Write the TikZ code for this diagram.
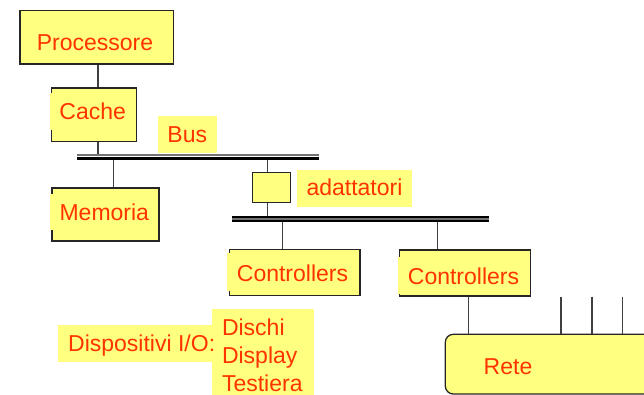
\documentclass[tikz,border=0pt]{standalone}
\usepackage{fontspec}
\setmainfont{Liberation Sans}
\definecolor{padyellow}{RGB}{255,255,128}
\definecolor{ink}{RGB}{255,51,0}
\begin{document}
\begin{tikzpicture}[x=1pt,y=-1pt,
  frame/.style={rectangle, draw=black!85, line width=1.3pt, fill=padyellow, inner sep=0pt},
  labelpad/.style={fill=padyellow},
  lbl/.style={text=ink, font=\fontsize{23}{27.6}\selectfont, inner sep=0pt, anchor=base},
  wire/.style={draw=black!75, line width=1.1pt},
  busblack/.style={draw=black, line width=3.2pt},
  busgray/.style={draw=black!55, line width=1.6pt}]
\clip (0,0) rectangle (644,395);

% framed boxes
\node[frame, minimum width=153.7pt, minimum height=53.3pt] (proc)  at (96.85,37.35) {};
\node[frame, minimum width=84.6pt,  minimum height=53.3pt] (cache) at (94,114.65) {};
\node[frame, minimum width=107pt,   minimum height=53pt]   (mem)   at (105.5,214.5) {};
\node[frame, minimum width=38pt,    minimum height=30pt]   (adapt) at (271.7,187.7) {};
\node[frame, minimum width=130.7pt, minimum height=46.4pt] (ctrlA) at (294.65,272.5) {};
\node[frame, minimum width=131.4pt, minimum height=46pt]   (ctrlB) at (465,273) {};
\node[frame, rounded corners=8pt, minimum width=214.7pt, minimum height=59.7pt] (rete) at (552.65,364.15) {};

% bus ends and tap points
\coordinate (b1w) at (77.3,157);
\coordinate (b1e) at (319,157);
\coordinate (b2w) at (232,219);
\coordinate (b2e) at (488.5,219);
\coordinate (tapCache) at (98,154.3);
\coordinate (tapMem) at (113.3,160);
\coordinate (tapAd) at (267.7,160);
\coordinate (tapAd2) at (267.7,216);
\coordinate (tapCA) at (282.7,222);
\coordinate (tapCB) at (437.7,222);
\coordinate (netA) at (468.5,315);
\coordinate (s1) at (561,296.7);
\coordinate (s2) at (592,296.7);
\coordinate (s3) at (622.7,296.7);

% system bus
\draw[busgray] ([yshift=2pt]b1w) -- ([yshift=2pt]b1e);
\draw[busblack] ([yshift=-1.5pt]b1w) -- ([yshift=-1.5pt]b1e);
% I/O bus
\draw[draw=black, line width=6pt] (b2w) -- (b2e);
\draw[draw=black!55, line width=2pt] ([yshift=0.2pt]b2w) -- ([yshift=0.2pt]b2e);

% connections
\draw[wire] (proc.south -| tapCache) -- (cache.north -| tapCache);
\draw[wire] (cache.south -| tapCache) -- (tapCache);
\draw[wire] (tapMem) -- (mem.north -| tapMem);
\draw[wire] (tapAd) -- (adapt.north -| tapAd);
\draw[wire] (adapt.south -| tapAd2) -- (tapAd2);
\draw[wire] (tapCA) -- (ctrlA.north -| tapCA);
\draw[wire] (tapCB) -- (ctrlB.north -| tapCB);
\draw[wire] (ctrlB.south -| netA) -- (rete.north -| netA);
\draw[wire] (s1) -- (rete.north -| s1);
\draw[wire] (s2) -- (rete.north -| s2);
\draw[wire] (s3) -- (rete.north -| s3);

% text backgrounds
\path[labelpad] (50,93) rectangle (135,130);
\path[labelpad] (158,116) rectangle (217,153);
\path[labelpad] (50,194) rectangle (157,230);
\path[labelpad] (297,170) rectangle (412,207);
\path[labelpad] (226.7,253) rectangle (352,291);
\path[labelpad] (397.5,257) rectangle (528,294);
\path[labelpad] (58,325) rectangle (213,362);
\path[labelpad] (212,309) rectangle (313.5,395);

% labels
\node[lbl] (procT)  at (95,51) {Processore};
\node[lbl] (cacheT) at (92.7,119.3) {Cache};
\node[lbl] (busT)   at (187.3,142.3) {Bus};
\node[lbl] (memT)   at (104.3,220.7) {Memoria};
\node[lbl] (adaptT) at (354.5,196) {adattatori};
\node[lbl] (ctrlAT) at (292.5,281) {Controllers};
\node[lbl] (ctrlBT) at (463.5,284.7) {Controllers};
\node[lbl, anchor=base west] (ioT)  at (68,351.7) {Dispositivi I/O:};
\node[lbl, anchor=base west] (devA) at (221.8,335) {Dischi};
\node[lbl, anchor=base west] (devB) at (221.8,363.3) {Display};
\node[lbl, anchor=base west] (devC) at (221.8,391.7) {Testiera};
\node[lbl] (reteT) at (508,374) {Rete};
\end{tikzpicture}
\end{document}
